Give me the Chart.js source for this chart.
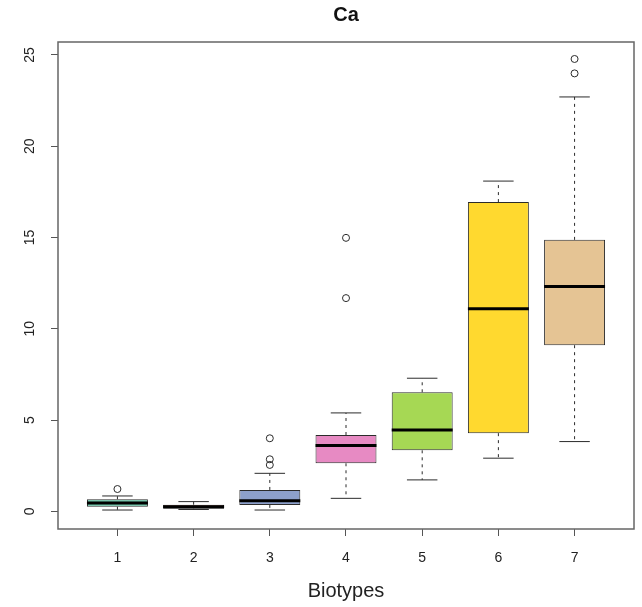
<!DOCTYPE html>
<html>
<head>
<meta charset="utf-8">
<script src="https://cdn.jsdelivr.net/npm/chart.js@4"></script>
<style>
  body { margin: 0; background: #fff; }
</style>
</head>
<body>
<canvas id="boxChart" width="642" height="607"></canvas>
<script>
const biotypes = [1, 2, 3, 4, 5, 6, 7];
const lowerWhisker = [0.07, 0.1, 0.07, 0.71, 1.72, 2.91, 3.82];
const lowerQuartile = [0.25, 0.14, 0.35, 2.63, 3.34, 4.28, 9.1];
const medians = [0.46, 0.25, 0.58, 3.6, 4.46, 11.09, 12.31];
const upperQuartile = [0.66, 0.36, 1.17, 4.18, 6.52, 16.94, 14.87];
const upperWhisker = [0.84, 0.53, 2.08, 5.39, 7.29, 18.09, 22.7];
const outliers = [[1.22], [], [2.54, 2.85, 4.0], [11.68, 14.98], [], [], [23.99, 24.78]];
const yTicks = [0, 5, 10, 15, 20, 25];

const boxColors = ["#66C2A5", "#FC8D62", "#8DA0CB", "#E78AC3", "#A6D854", "#FFD92F", "#E5C494"];
const ink = "#2b2b2b";

const outlierPoints = [];
outliers.forEach((vals, i) => {
  vals.forEach((v) => outlierPoints.push({ x: biotypes[i], y: v }));
});

// whiskers, caps, medians and the frame, drawn through the chart scales
const boxplotExtras = {
  id: "boxplotExtras",
  beforeDatasetsDraw(chart) {
    const { ctx, scales } = chart;
    const bars = chart.getDatasetMeta(0).data;
    ctx.save();
    ctx.strokeStyle = ink;
    ctx.lineWidth = 1;
    biotypes.forEach((b, i) => {
      const x = scales.x.getPixelForValue(b);
      const half = bars[i].width / 4;
      const yLow = scales.y.getPixelForValue(lowerWhisker[i]);
      const yQ1 = scales.y.getPixelForValue(lowerQuartile[i]);
      const yQ3 = scales.y.getPixelForValue(upperQuartile[i]);
      const yHigh = scales.y.getPixelForValue(upperWhisker[i]);
      ctx.setLineDash([3, 4]);
      ctx.beginPath();
      ctx.moveTo(x, yQ1);
      ctx.lineTo(x, yLow);
      ctx.moveTo(x, yQ3);
      ctx.lineTo(x, yHigh);
      ctx.stroke();
      ctx.setLineDash([]);
      ctx.beginPath();
      ctx.moveTo(x - half, yLow);
      ctx.lineTo(x + half, yLow);
      ctx.moveTo(x - half, yHigh);
      ctx.lineTo(x + half, yHigh);
      ctx.stroke();
    });
    ctx.restore();
  },
  afterDatasetsDraw(chart) {
    const { ctx, scales, chartArea } = chart;
    const bars = chart.getDatasetMeta(0).data;
    ctx.save();
    ctx.strokeStyle = "#000";
    ctx.lineWidth = 3;
    biotypes.forEach((b, i) => {
      const x = scales.x.getPixelForValue(b);
      const half = bars[i].width / 2;
      const y = scales.y.getPixelForValue(medians[i]);
      ctx.beginPath();
      ctx.moveTo(x - half, y);
      ctx.lineTo(x + half, y);
      ctx.stroke();
    });
    ctx.strokeStyle = "#666";
    ctx.lineWidth = 1.5;
    ctx.strokeRect(chartArea.left, chartArea.top, chartArea.right - chartArea.left, chartArea.bottom - chartArea.top);
    ctx.restore();
  },
};

new Chart(document.getElementById("boxChart"), {
  type: "bar",
  data: {
    datasets: [
      {
        type: "bar",
        data: biotypes.map((b, i) => ({ x: b, y: [lowerQuartile[i], upperQuartile[i]] })),
        backgroundColor: boxColors,
        borderColor: ink,
        borderWidth: 1,
        borderSkipped: false,
        barPercentage: 0.8,
        categoryPercentage: 1,
        order: 2,
      },
      {
        type: "scatter",
        data: outlierPoints,
        pointStyle: "circle",
        pointRadius: 3.5,
        pointBackgroundColor: "rgba(0,0,0,0)",
        pointBorderColor: ink,
        pointBorderWidth: 1,
        order: 1,
      },
    ],
  },
  options: {
    responsive: false,
    animation: false,
    layout: { padding: { left: 0, right: 8, top: 0, bottom: 0 } },
    plugins: {
      legend: { display: false },
      tooltip: { enabled: false },
      title: {
        display: true,
        text: "Ca",
        fullSize: false,
        color: "#111",
        font: { family: "'Liberation Sans', Arial, sans-serif", size: 20, weight: "bold", lineHeight: 1.2 },
        padding: { top: 3, bottom: 15 },
      },
    },
    scales: {
      x: {
        type: "linear",
        min: 0.22,
        max: 7.78,
        offset: false,
        afterBuildTicks: (scale) => {
          scale.ticks = biotypes.map((v) => ({ value: v }));
        },
        afterFit: (scale) => {
          scale.height = 78;
        },
        border: { display: false },
        grid: { offset: false, drawOnChartArea: false, drawTicks: true, tickLength: 7, color: "#555" },
        ticks: {
          color: "#222",
          padding: 14,
          font: { family: "'Liberation Sans', Arial, sans-serif", size: 14 },
        },
        title: {
          display: true,
          text: "Biotypes",
          color: "#222",
          font: { family: "'Liberation Sans', Arial, sans-serif", size: 20 },
          padding: { top: 0, bottom: 4 },
        },
      },
      y: {
        min: -0.97,
        max: 25.71,
        afterBuildTicks: (scale) => {
          scale.ticks = yTicks.map((v) => ({ value: v }));
        },
        afterFit: (scale) => {
          scale.width = 58;
        },
        border: { display: false },
        grid: { drawOnChartArea: false, drawTicks: true, tickLength: 7, color: "#555" },
        ticks: {
          color: "#222",
          padding: 13,
          minRotation: 90,
          maxRotation: 90,
          crossAlign: "center",
          font: { family: "'Liberation Sans', Arial, sans-serif", size: 14 },
        },
      },
    },
  },
  plugins: [boxplotExtras],
});
</script>
</body>
</html>
